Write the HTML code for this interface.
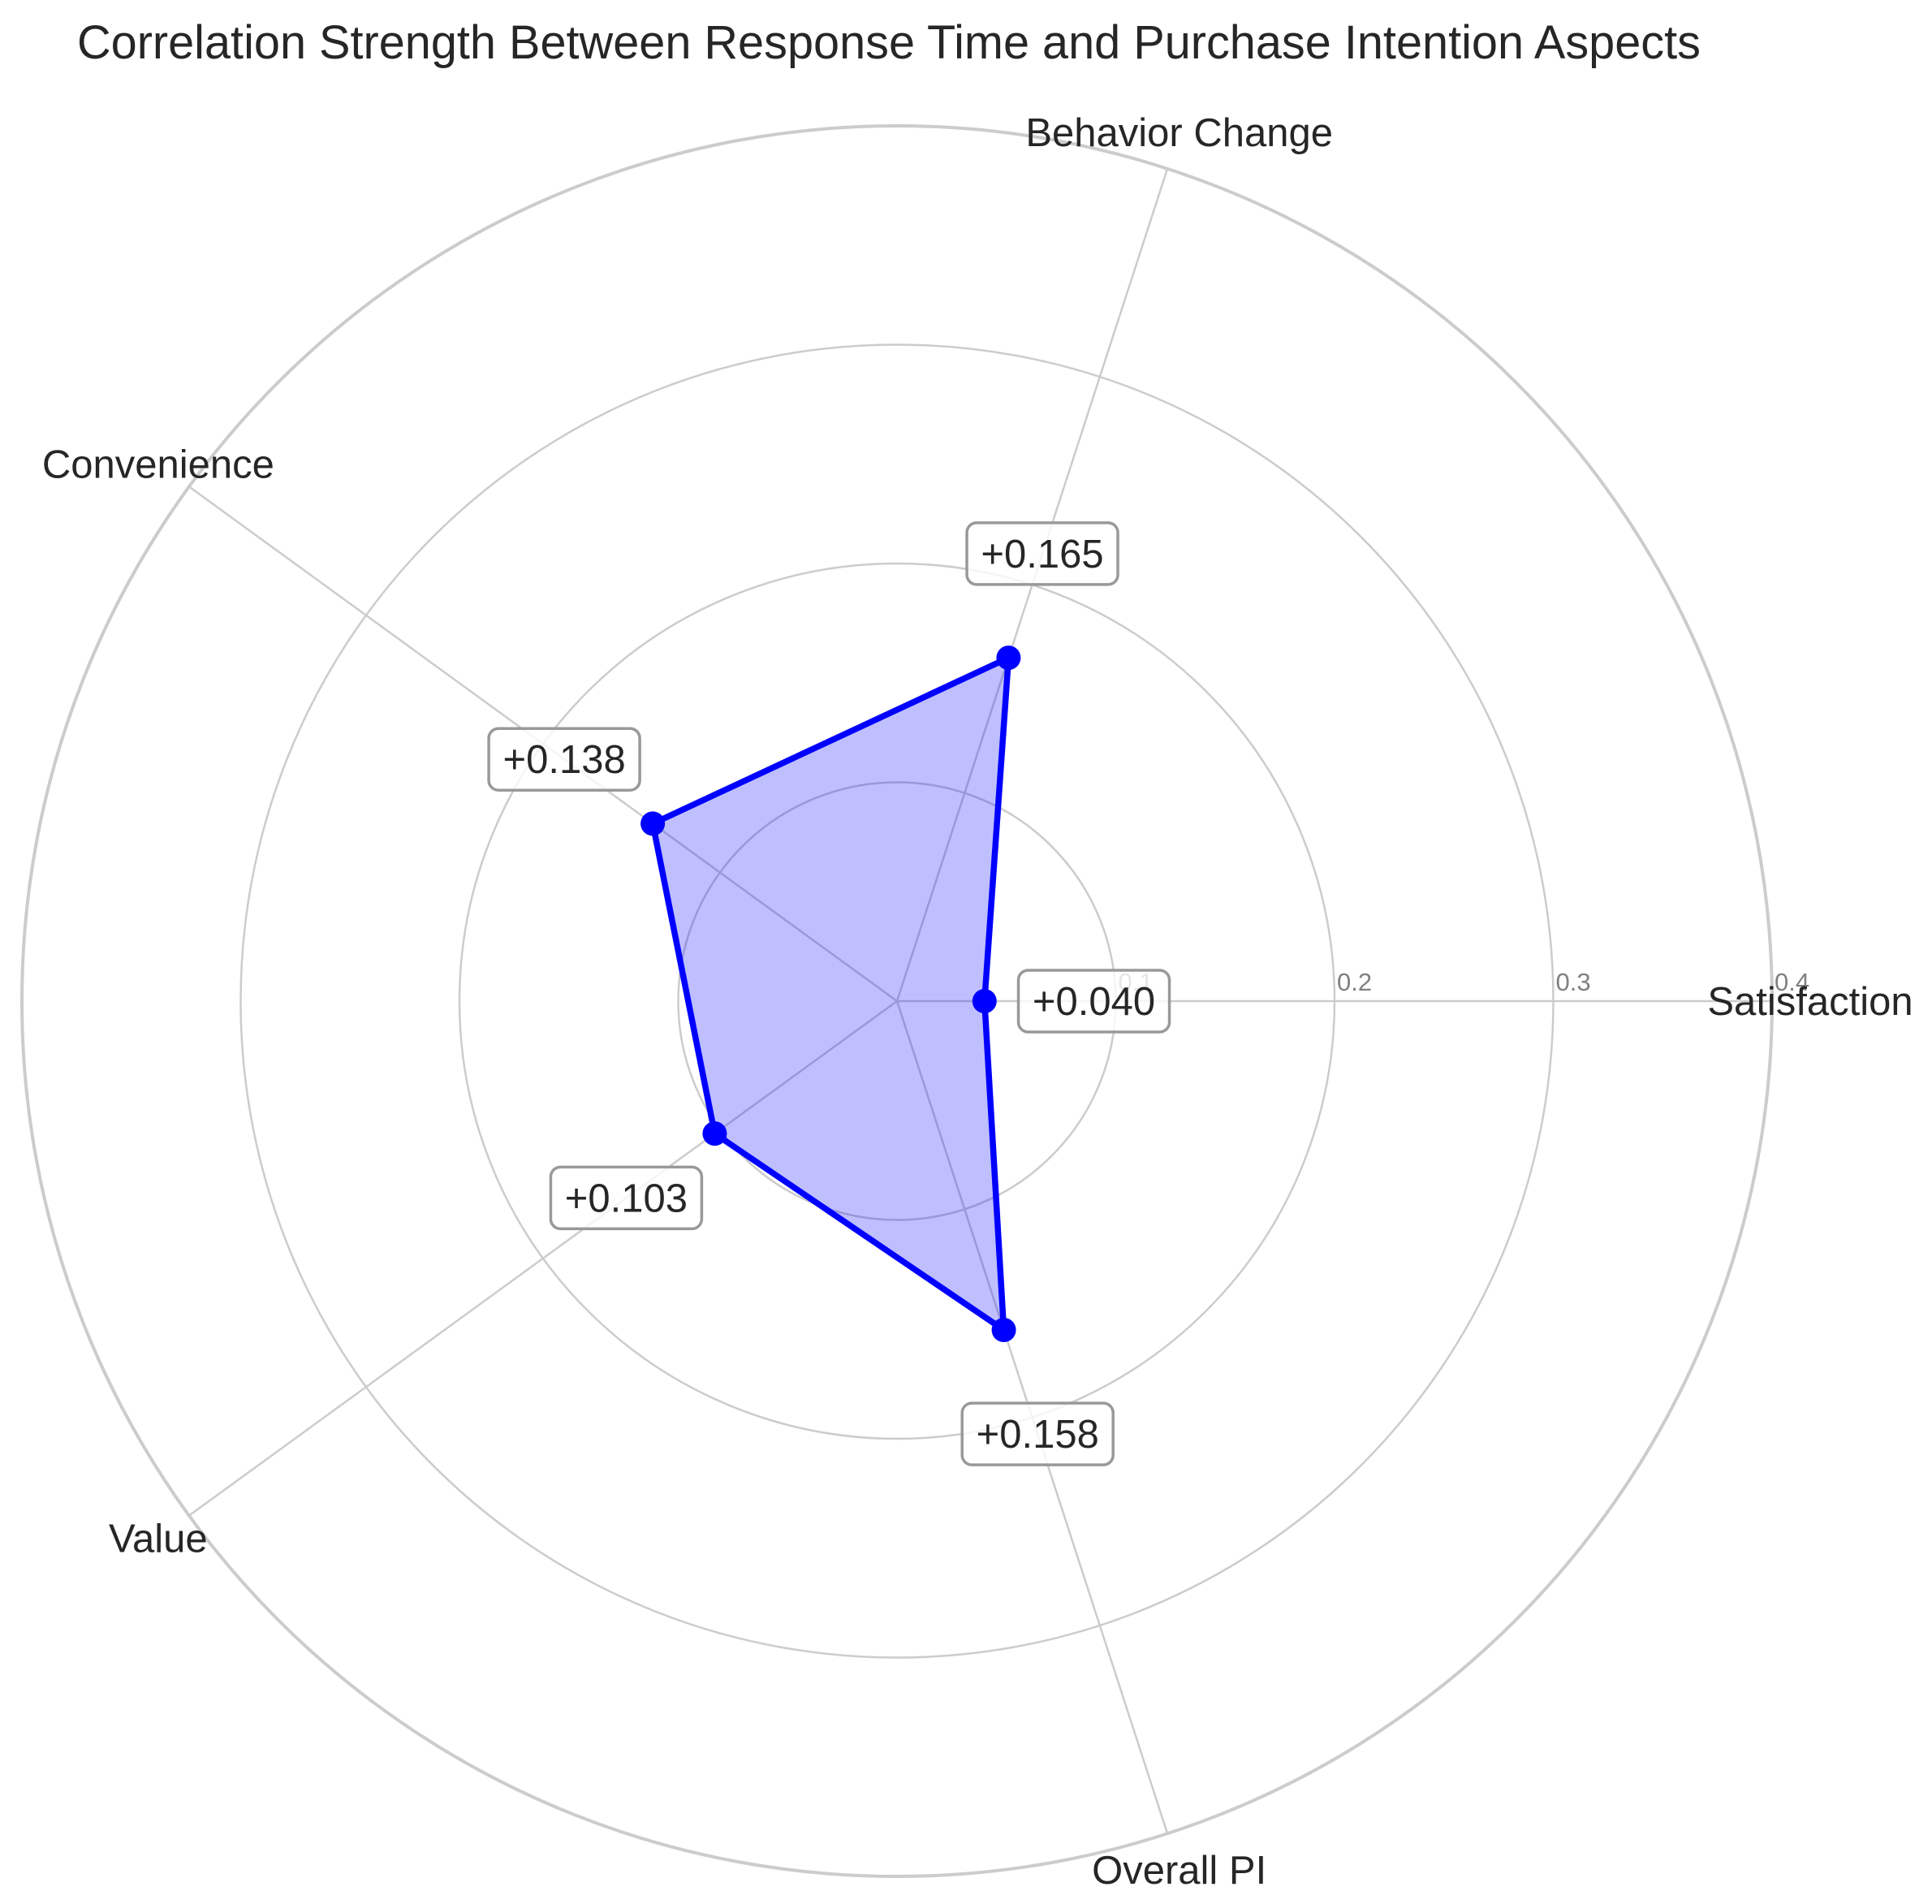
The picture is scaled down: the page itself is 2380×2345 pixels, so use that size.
<!DOCTYPE html>
<html><head><meta charset="utf-8">
<style>
html,body{margin:0;padding:0;background:#fff;}
svg{display:block;font-family:"Liberation Sans",Arial,sans-serif;}
</style></head>
<body>
<svg id="chart" width="2380" height="2345" viewBox="0 0 2380 2345" xmlns="http://www.w3.org/2000/svg">
<rect width="2380" height="2345" fill="#fff"/>
<text x="95" y="72" font-size="58" textLength="2000" lengthAdjust="spacingAndGlyphs" fill="#262626">Correlation Strength Between Response Time and Purchase Intention Aspects</text>
<g id="grid"></g>
<g id="series"></g>
<g id="labels"></g>
<g id="annots"></g>
</svg>
<script>
const categories = ["Satisfaction", "Behavior Change", "Convenience", "Value", "Overall PI"];
const values = [0.040, 0.165, 0.138, 0.103, 0.158];
const rTicks = [0.1, 0.2, 0.3, 0.4];
const tickLabels = ["0.1", "0.2", "0.3", "0.4"];
const rMax = 0.4;

const NS = "http://www.w3.org/2000/svg";
const cx = 1105, cy = 1233, R = 1078;
function rScale(v){ return v / rMax * R; }
function angleOf(i){ return i * 2 * Math.PI / categories.length; }
function px(v, i){ return cx + rScale(v) * Math.cos(angleOf(i)); }
function py(v, i){ return cy - rScale(v) * Math.sin(angleOf(i)); }
function mk(tag, attrs, parent){
  const el = document.createElementNS(NS, tag);
  for (const k in attrs) el.setAttribute(k, attrs[k]);
  parent.appendChild(el);
  return el;
}
const grid = document.getElementById("grid");
const series = document.getElementById("series");
const labels = document.getElementById("labels");
const annots = document.getElementById("annots");

rTicks.forEach((t, k) => {
  const c = mk("circle", {cx: cx, cy: cy, r: rScale(t), fill: "none", stroke: "#cccccc", "stroke-width": (t === rMax ? 4 : 2.5)}, grid);
  
  
});
categories.forEach((c, i) => {
  const l = mk("line", {x1: cx, y1: cy, x2: px(rMax, i), y2: py(rMax, i), stroke: "#cccccc", "stroke-width": 2.5}, grid);
  
  
});
rTicks.forEach((t, k) => {
  const tx = mk("text", {x: cx + rScale(t) + 3, y: cy - 13, "font-size": 31, fill: "#808080"}, grid);
  tx.textContent = tickLabels[k];
  
  
});
const pts = values.map((v, i) => px(v, i) + "," + py(v, i)).join(" ");
const poly = mk("polygon", {points: pts, fill: "rgba(0,0,255,0.25)", stroke: "none"}, series);


const line = mk("polygon", {points: pts, fill: "none", stroke: "#0000ff", "stroke-width": 7.5, "stroke-linejoin": "round"}, series);


values.forEach((v, i) => {
  const m = mk("circle", {cx: px(v, i), cy: py(v, i), r: 15, fill: "#0000ff"}, series);
  
  
});
categories.forEach((c, i) => {
  const t = mk("text", {x: cx + 1125 * Math.cos(angleOf(i)), y: cy - 1125 * Math.sin(angleOf(i)) + 17, "font-size": 49, fill: "#262626", "text-anchor": "middle"}, labels);
  t.textContent = c;
  
  
});
values.forEach((v, i) => {
  const ax = px(v + 0.05, i), ay = py(v + 0.05, i);
  const g = mk("g", {}, annots);
  
  
  mk("rect", {x: ax - 93, y: ay - 38, width: 186, height: 76, rx: 12, fill: "rgba(255,255,255,0.8)", stroke: "#999999", "stroke-width": 3.5}, g);
  const t = mk("text", {x: ax, y: ay + 17, "font-size": 49, fill: "#262626", "text-anchor": "middle"}, g);
  t.textContent = (v >= 0 ? "+" : "") + v.toFixed(3);
});
</script>
</body></html>
